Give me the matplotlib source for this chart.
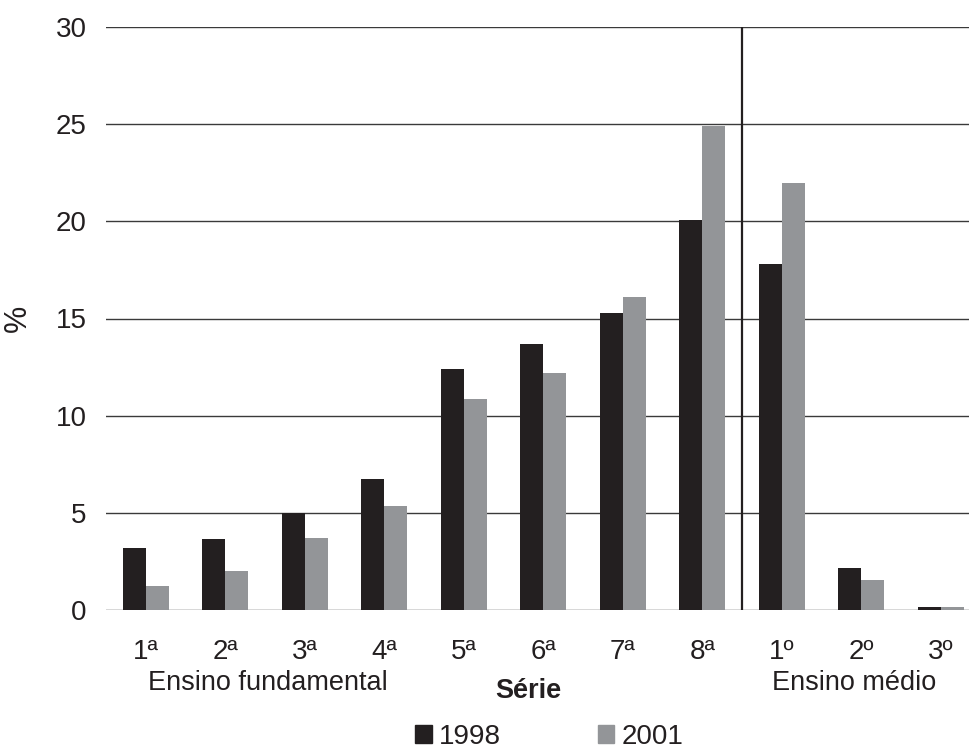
import matplotlib
matplotlib.use("Agg")
import matplotlib.pyplot as plt
from matplotlib.patches import Patch
import numpy as np

plt.rcParams['font.family'] = ['Liberation Sans', 'DejaVu Sans']

categories = ['1ª', '2ª', '3ª', '4ª', '5ª', '6ª', '7ª', '8ª', '1º', '2º', '3º']
v1998 = [3.2, 3.65, 5.0, 6.75, 12.4, 13.7, 15.3, 20.07, 17.8, 2.16, 0.15]
v2001 = [1.24, 2.02, 3.7, 5.36, 10.86, 12.2, 16.1, 24.9, 21.97, 1.54, 0.15]
series_names = ['1998', '2001']
group_labels = ['Ensino fundamental', 'Ensino médio']
yticks = [0, 5, 10, 15, 20, 25, 30]

c_dark = '#231f20'
c_gray = '#939598'

W, H = 969, 749
fig = plt.figure(figsize=(W/100, H/100), dpi=100)
left, right, top, bottom = 106, 969, 27, 610
ax = fig.add_axes([left/W, 1-bottom/H, (right-left)/W, (bottom-top)/H])

x = np.arange(len(categories))
bw = 0.29
ax.bar(x - bw/2, v1998, width=bw, color=c_dark, zorder=3)
ax.bar(x + bw/2, v2001, width=bw, color=c_gray, zorder=3)

ax.set_ylim(0, 30)
ax.set_xlim(-0.5, -0.5 + (right-left)/79.5)
ax.set_yticks(yticks)
ax.yaxis.grid(True, color='#3a3a3a', lw=1.0, zorder=1)
ax.set_axisbelow(True)
for s in ax.spines.values():
    s.set_visible(False)
ax.tick_params(axis='both', length=0, labelsize=20, colors='#231f20')
ax.tick_params(axis='y', pad=14)
ax.tick_params(axis='x', pad=21)
ax.set_xticks(x)
ax.set_xticklabels(categories)

ax.axvline(7.5, ymin=0, ymax=1, color='#231f20', lw=1.6, zorder=4)

ax.set_ylabel('%', fontsize=22, color='#231f20', labelpad=16)

fig.text(268/W, 1-683/H, group_labels[0], ha='center', va='center', fontsize=19.5, color='#231f20')
fig.text(854/W, 1-683/H, group_labels[1], ha='center', va='center', fontsize=19.5, color='#231f20')
fig.text(528/W, 1-691/H, 'Série', ha='center', va='center', fontsize=19.5, fontweight='bold', color='#231f20')

handles = [Patch(color=c_dark, label=series_names[0]), Patch(color=c_gray, label=series_names[1])]
fig.legend(handles=handles, loc='center', bbox_to_anchor=(549/W, 1-737/H), ncol=2,
           frameon=False, fontsize=20, handlelength=0.6, handleheight=0.6,
           handletextpad=0.25, columnspacing=3.5, labelcolor='#231f20')

fig.savefig('out.png', dpi=100, facecolor='white')
